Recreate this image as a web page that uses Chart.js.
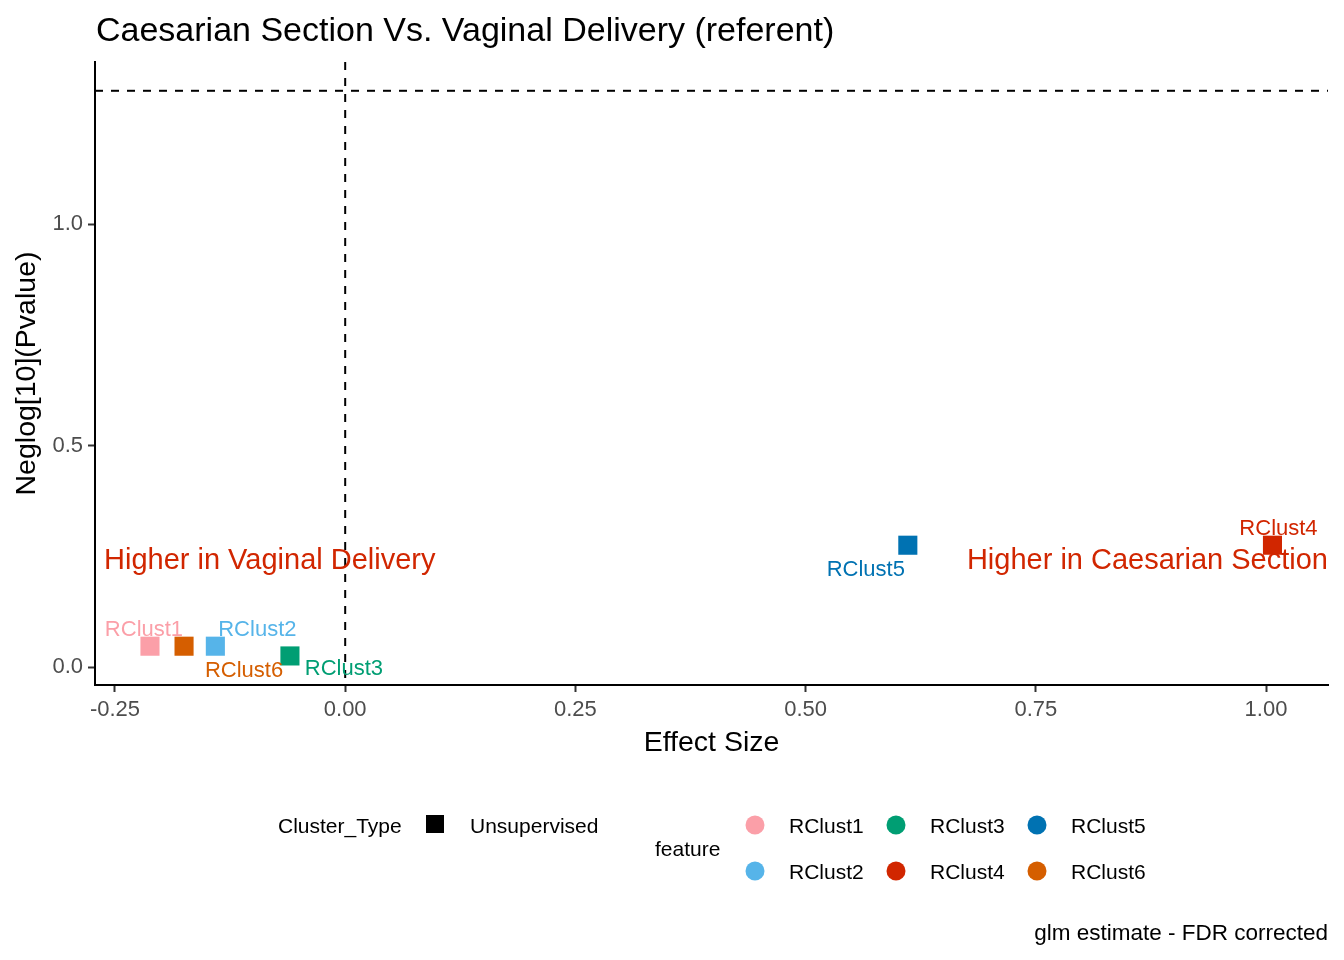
<!DOCTYPE html>
<html lang="en">
<head>
  <meta charset="UTF-8">
  <title>Caesarian Section Vs. Vaginal Delivery</title>
  <style>
    body { margin: 0; padding: 0; background: #fff; }
    canvas { display: block; }
  </style>
</head>
<body>
  <canvas id="volcano" width="1344" height="960"></canvas>

  <script src="https://cdn.jsdelivr.net/npm/chart.js"></script>
  <script>
    // data
    const features = ['RClust1', 'RClust2', 'RClust3', 'RClust4', 'RClust5', 'RClust6'];
    const effectSize = [-0.212, -0.141, -0.060, 1.007, 0.611, -0.175];
    const negLogP = [0.047, 0.047, 0.025, 0.275, 0.275, 0.047];
    const featureColors = ['#FB9FA8', '#56B4E9', '#009E73', '#D12600', '#0072B2', '#D55E00'];
    const clusterTypes = ['Unsupervised'];
    const xTicks = [-0.25, 0, 0.25, 0.5, 0.75, 1.0];
    const yTicks = [0, 0.5, 1.0];
    const sigLine = 1.301;   // -log10(0.05)
    const effectLine = 0;

    // label placement (pixels, like ggrepel put them)
    const labelNudge = {
      RClust1: [-6, -16], RClust2: [42, -16], RClust3: [54, 13],
      RClust4: [6, -16], RClust5: [-42, 25], RClust6: [60, 25]
    };

    const FONT = '"Liberation Sans", Arial, sans-serif';

    const extras = {
      id: 'extras',
      beforeDatasetsDraw(chart) {
        const { ctx, chartArea: a, scales: { x, y } } = chart;
        ctx.save();
        ctx.strokeStyle = '#000';
        ctx.lineWidth = 2;
        ctx.setLineDash([8, 8]);
        const yy = y.getPixelForValue(sigLine);
        ctx.beginPath(); ctx.moveTo(a.left, yy); ctx.lineTo(a.right, yy); ctx.stroke();
        const xx = x.getPixelForValue(effectLine);
        ctx.beginPath(); ctx.moveTo(xx, a.top); ctx.lineTo(xx, a.bottom); ctx.stroke();
        ctx.restore();
      },
      afterDatasetsDraw(chart) {
        const { ctx, chartArea: a, scales: { x, y } } = chart;
        ctx.save();
        ctx.textBaseline = 'middle';

        // point labels
        ctx.font = '22px ' + FONT;
        ctx.textAlign = 'center';
        features.forEach((f, i) => {
          const px = x.getPixelForValue(effectSize[i]);
          const py = y.getPixelForValue(negLogP[i]);
          ctx.fillStyle = featureColors[i];
          ctx.fillText(f, px + labelNudge[f][0], py + labelNudge[f][1]);
        });

        // direction annotations
        ctx.font = '29px ' + FONT;
        ctx.fillStyle = '#D12600';
        const ay = y.getPixelForValue(0.244) + 2;
        ctx.textAlign = 'left';
        ctx.fillText('Higher in Vaginal Delivery', a.left + 9, ay);
        ctx.textAlign = 'right';
        ctx.fillText('Higher in Caesarian Section', a.right, ay);

        // title
        ctx.fillStyle = '#000';
        ctx.textAlign = 'left';
        ctx.font = '34px ' + FONT;
        ctx.fillText('Caesarian Section Vs. Vaginal Delivery (referent)', 96, 32);

        // legend
        ctx.font = '21px ' + FONT;
        ctx.fillText('Cluster_Type', 278, 827);
        ctx.fillRect(426, 815, 18, 18);
        ctx.fillText(clusterTypes[0], 470, 827);
        ctx.fillText('feature', 655, 850);
        features.forEach((f, i) => {
          const col = Math.floor(i / 2), row = i % 2;
          const cx = 755 + col * 141, cy = 825 + row * 46;
          ctx.fillStyle = featureColors[i];
          ctx.beginPath(); ctx.arc(cx, cy, 9.5, 0, Math.PI * 2); ctx.fill();
          ctx.fillStyle = '#000';
          ctx.fillText(f, cx + 34, cy + 2);
        });

        // caption
        ctx.font = '22.5px ' + FONT;
        ctx.textAlign = 'right';
        ctx.fillText('glm estimate - FDR corrected', 1328, 934);
        ctx.restore();
      }
    };

    new Chart(document.getElementById('volcano'), {
      type: 'scatter',
      data: {
        datasets: [{
          label: 'feature',
          data: features.map((f, i) => ({ x: effectSize[i], y: negLogP[i] })),
          pointStyle: 'rect',
          pointRadius: 13.5,
          pointHoverRadius: 13.5,
          backgroundColor: featureColors,
          borderColor: featureColors,
          borderWidth: 0
        }]
      },
      options: {
        responsive: false,
        animation: false,
        layout: { padding: { top: 62, right: 16, left: 0, bottom: 0 } },
        plugins: { legend: { display: false }, tooltip: { enabled: false } },
        scales: {
          x: {
            type: 'linear',
            min: -0.2717,
            max: 1.0673,
            afterBuildTicks: s => { s.ticks = xTicks.map(v => ({ value: v })); },
            afterFit: s => { s.height = 275; },
            ticks: {
              callback: v => v.toFixed(2),
              color: '#4D4D4D',
              padding: 5,
              font: { family: FONT, size: 22 }
            },
            grid: { drawOnChartArea: false, tickLength: 7, tickColor: '#333', tickWidth: 2 },
            border: { display: true, color: '#000', width: 2 },
            title: {
              display: true,
              text: 'Effect Size',
              color: '#000',
              padding: { top: 0, bottom: 200 },
              font: { family: FONT, size: 28.5 }
            }
          },
          y: {
            type: 'linear',
            min: -0.0406,
            max: 1.366,
            afterBuildTicks: s => { s.ticks = yTicks.map(v => ({ value: v })); },
            afterFit: s => { s.width = 95; },
            ticks: {
              callback: v => v.toFixed(1),
              color: '#4D4D4D',
              padding: 5,
              font: { family: FONT, size: 22 }
            },
            grid: { drawOnChartArea: false, tickLength: 7, tickColor: '#333', tickWidth: 2 },
            border: { display: true, color: '#000', width: 2 },
            title: {
              display: true,
              text: 'Neglog[10](Pvalue)',
              color: '#000',
              padding: { top: 10, bottom: 0 },
              font: { family: FONT, size: 28.5 }
            }
          }
        }
      },
      plugins: [extras]
    });
  </script>
</body>
</html>
